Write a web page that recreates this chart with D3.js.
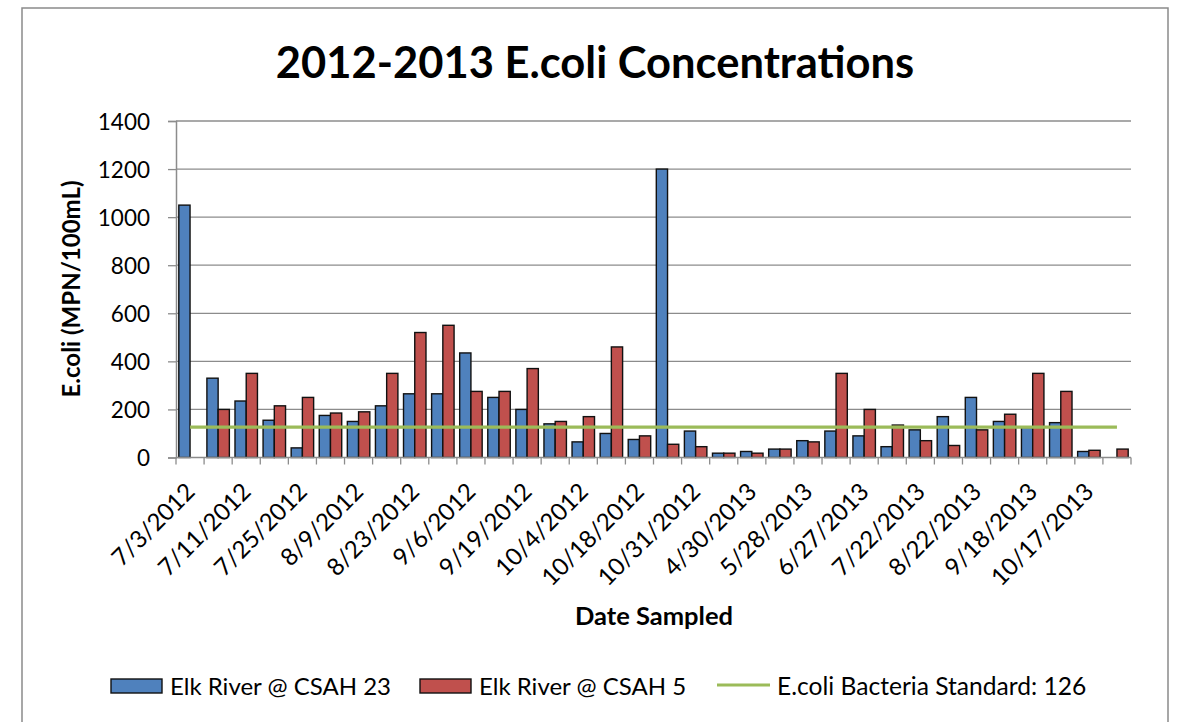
<!DOCTYPE html>
<html>
<head>
<meta charset="utf-8">
<script src="https://cdn.jsdelivr.net/npm/d3@7"></script>
<style>
  html, body { margin: 0; padding: 0; background: #fff; }
  svg { display: block; font-family: Lato, "Open Sans", sans-serif; }
</style>
</head>
<body>
<svg id="chart" width="1183" height="722"></svg>
<script>
// Sampling dates shown on the axis (every other sample is labelled)
const tickLabels = [
  "7/3/2012", "7/11/2012", "7/25/2012", "8/9/2012", "8/23/2012", "9/6/2012",
  "9/19/2012", "10/4/2012", "10/18/2012", "10/31/2012", "4/30/2013", "5/28/2013",
  "6/27/2013", "7/22/2013", "8/22/2013", "9/18/2013", "10/17/2013"
];
const sampleCount = 34;

// E.coli (MPN/100mL) per sample; null = not sampled
const csah23 = [1050, 330, 235, 155, 40, 175, 150, 215, 265, 265, 435, 250, 200, 140, 65, 100, 75,
                1200, 110, 18, 25, 35, 70, 110, 90, 45, 115, 170, 250, 150, 125, 145, 25, null];
const csah5  = [null, 200, 350, 215, 250, 185, 190, 350, 520, 550, 275, 275, 370, 150, 170, 460, 90,
                55, 45, 18, 18, 35, 65, 350, 200, 135, 70, 50, 115, 180, 350, 275, 30, 35];
const standard = 126;

const seriesNames = ["Elk River @ CSAH 23", "Elk River @ CSAH 5", "E.coli Bacteria Standard: 126"];
const colors = { blue: "#4F81BD", red: "#C0504D", green: "#9BBB59", grid: "#8c8c8c" };
const yTicks = [0, 200, 400, 600, 800, 1000, 1200, 1400];

const svg = d3.select("#chart");

// outer chart frame
svg.append("rect")
  .attr("x", 22).attr("y", 8).attr("width", 1146).attr("height", 730)
  .attr("fill", "#fff").attr("stroke", "#8a8a8a").attr("stroke-width", 1.5);

const plot = { left: 176, right: 1131, top: 121, bottom: 457.5 };
const idx = d3.range(sampleCount);

const x = d3.scaleBand().domain(idx).range([plot.left, plot.right]).paddingInner(0).paddingOuter(0);
const y = d3.scaleLinear().domain([0, 1400]).range([plot.bottom, plot.top]);
const cw = x.bandwidth();
const barW = cw * 0.4;
const groupOffset = (cw - 2 * barW) / 2;

// title
svg.append("text")
  .attr("x", 595).attr("y", 78)
  .attr("text-anchor", "middle")
  .attr("font-weight", "bold").attr("font-size", 43.5)
  .attr("fill", "#000")
  .text("2012-2013 E.coli Concentrations");

// horizontal gridlines
svg.append("g")
  .selectAll("line").data(yTicks.filter(d => d > 0)).join("line")
  .attr("x1", plot.left).attr("x2", plot.right)
  .attr("y1", d => y(d)).attr("y2", d => y(d))
  .attr("stroke", colors.grid).attr("stroke-width", 1.3);

// y axis
const yAxis = svg.append("g")
  .attr("transform", `translate(${plot.left},0)`)
  .call(d3.axisLeft(y).tickValues(yTicks).tickSize(8).tickPadding(18).tickFormat(d3.format("d")));
yAxis.select(".domain").attr("stroke", colors.grid).attr("stroke-width", 1.5);
yAxis.selectAll(".tick line").attr("stroke", colors.grid).attr("stroke-width", 1.3);
yAxis.selectAll(".tick text").attr("font-size", 22.5).attr("fill", "#000")
  .attr("font-family", "Lato, sans-serif").attr("dy", "0.36em");

// bars
const bars = svg.append("g");
bars.selectAll("rect.s23").data(idx.filter(i => csah23[i] != null)).join("rect")
  .attr("class", "s23")
  .attr("x", i => x(i) + groupOffset)
  .attr("y", i => y(csah23[i]))
  .attr("width", barW)
  .attr("height", i => y(0) - y(csah23[i]))
  .attr("fill", colors.blue).attr("stroke", "#111").attr("stroke-width", 1.4);
bars.selectAll("rect.s5").data(idx.filter(i => csah5[i] != null)).join("rect")
  .attr("class", "s5")
  .attr("x", i => x(i) + groupOffset + barW)
  .attr("y", i => y(csah5[i]))
  .attr("width", barW)
  .attr("height", i => y(0) - y(csah5[i]))
  .attr("fill", colors.red).attr("stroke", "#111").attr("stroke-width", 1.4);

// standard line across the samples
svg.append("path")
  .datum([0, sampleCount - 1])
  .attr("d", d3.line().x(i => x(i) + cw / 2).y(() => y(standard)))
  .attr("stroke", colors.green).attr("stroke-width", 3.2).attr("fill", "none");

// x axis with boundary ticks between samples
const xg = svg.append("g");
xg.append("line")
  .attr("x1", plot.left).attr("x2", plot.right)
  .attr("y1", plot.bottom).attr("y2", plot.bottom)
  .attr("stroke", colors.grid).attr("stroke-width", 1.5);
xg.selectAll("line.tk").data(d3.range(sampleCount + 1)).join("line")
  .attr("class", "tk")
  .attr("x1", k => plot.left + k * cw).attr("x2", k => plot.left + k * cw)
  .attr("y1", plot.bottom).attr("y2", plot.bottom + 7)
  .attr("stroke", colors.grid).attr("stroke-width", 1.3);

xg.selectAll("text").data(tickLabels).join("text")
  .attr("transform", (d, j) => `translate(${x(j * 2) + cw / 2 - 6},${481}) rotate(-45)`)
  .attr("text-anchor", "end")
  .attr("dy", "0.72em")
  .attr("font-size", 24).attr("fill", "#000")
  .text(d => d);

// axis titles
svg.append("text")
  .attr("transform", `translate(80,289) rotate(-90)`)
  .attr("text-anchor", "middle")
  .attr("font-weight", "bold").attr("font-size", 24).attr("fill", "#000")
  .text("E.coli (MPN/100mL)");

svg.append("text")
  .attr("x", 654).attr("y", 625)
  .attr("text-anchor", "middle")
  .attr("font-weight", "bold").attr("font-size", 25.5).attr("fill", "#000")
  .text("Date Sampled");

// legend
const lg = svg.append("g");
const legendY = 686;
const legendFont = 24;
lg.append("rect").attr("x", 111).attr("y", legendY - 7).attr("width", 51).attr("height", 14)
  .attr("fill", colors.blue).attr("stroke", "#111").attr("stroke-width", 1.4);
lg.append("text").attr("x", 170).attr("y", legendY).attr("dy", "0.36em")
  .attr("font-size", legendFont).attr("fill", "#000").text(seriesNames[0]);
lg.append("rect").attr("x", 420).attr("y", legendY - 7).attr("width", 51).attr("height", 14)
  .attr("fill", colors.red).attr("stroke", "#111").attr("stroke-width", 1.4);
lg.append("text").attr("x", 479).attr("y", legendY).attr("dy", "0.36em")
  .attr("font-size", legendFont).attr("fill", "#000").text(seriesNames[1]);
lg.append("line").attr("x1", 717).attr("x2", 770).attr("y1", legendY - 1).attr("y2", legendY - 1)
  .attr("stroke", colors.green).attr("stroke-width", 3.2);
lg.append("text").attr("x", 777).attr("y", legendY).attr("dy", "0.36em")
  .attr("font-size", 24.6).attr("fill", "#000").text(seriesNames[2]);
</script>
</body>
</html>
